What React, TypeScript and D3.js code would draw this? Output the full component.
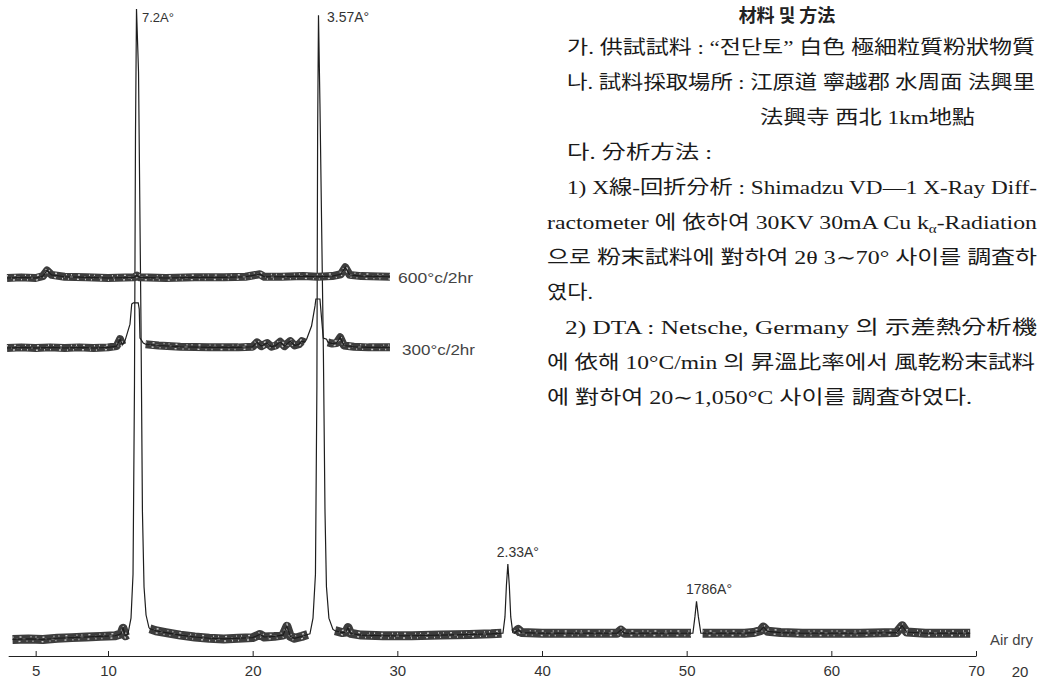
import React, { useEffect, useRef } from "react";
import * as d3 from "d3";

type Pt = [number, number];

// x axis (2θ)
const xTicks = [5, 10, 20, 30, 40, 50, 60, 70];

// Air dry: background trace (2θ, intensity)
const airDryBackground: Pt[] = [
  [3.4, -0.4], [4.5, -0.3], [5.5, -0.4], [6.5, -0.2], [7.5, -0.1], [8.5, 0],
  [9.5, 0.1], [10.5, 0.2], [10.9, 0.5], [11.04, 1.4], [11.2, 0.2], [11.35, 0.4],
  [12.9, 1.3], [13.3, 1.0], [14, 0.7], [15, 0.3], [16, 0], [17, -0.2], [18, -0.3],
  [19, -0.2], [20, -0.1], [20.5, 0.4], [20.8, 0], [21.5, 0.1], [22.1, 0.3],
  [22.37, 1.7], [22.6, 0.1], [22.9, -0.2], [23.4, 0.1], [23.8, 0.4],
  [25.7, 1.0], [26.2, 0.7], [26.45, 0.8], [26.59, 1.5], [26.75, 0.6], [27.5, 0.3],
  [29, 0.2], [31, 0.2], [33, 0.3], [35, 0.4], [36.5, 0.5], [37.2, 0.6],
  [38.1, 0.6], [38.35, 1.2], [38.6, 0.7], [40, 0.6], [42, 0.6], [44, 0.6],
  [45.2, 0.6], [45.45, 1.1], [45.7, 0.6], [47, 0.6], [49, 0.6], [50.3, 0.6],
  [51.1, 0.6], [52.5, 0.6], [54, 0.6], [54.6, 0.7], [55.1, 1.0], [55.3, 1.6],
  [55.6, 0.9], [56.5, 0.7], [58, 0.6], [60, 0.6], [62, 0.6], [64.5, 0.7],
  [64.9, 1.8], [65.2, 0.8], [66.5, 0.6], [68, 0.6], [69.6, 0.6],
];

// Air dry: peaks 7.2Å, 3.57Å, 2.33Å, 1.786Å
const airDryPeaks: Pt[][] = [
  [[11.38, 0.5], [11.59, 3], [11.73, 10], [11.83, 40], [11.9, 80], [11.97, 100],
   [12.11, 90], [12.28, 50], [12.38, 20], [12.49, 8], [12.63, 3.5], [12.83, 1.5]],
  [[23.96, 0.5], [24.17, 3], [24.34, 10], [24.44, 40], [24.49, 80], [24.55, 99],
   [24.65, 85], [24.89, 45], [25.0, 20], [25.1, 8], [25.27, 3], [25.55, 1.2]],
  [[37.3, 0.6], [37.44, 3.2], [37.54, 8.2], [37.64, 11.6], [37.74, 8.2],
   [37.84, 3.2], [37.98, 0.7]],
  [[50.43, 0.6], [50.57, 3.2], [50.68, 5.7], [50.81, 3.2], [50.98, 0.6]],
];

// 300°C / 2hr
const heat300Background: Pt[] = [
  [3.02, 0], [4, 0.1], [5, 0], [6, 0.1], [7, 0], [8, 0.1], [9, 0], [10, 0.1],
  [10.6, 0.3], [10.83, 1.4], [11.0, 0.5],
  [12.6, 0.6], [13.5, 0.4], [15, 0.2], [17, 0.1], [19, 0.1], [20.0, 0.2],
  [20.3, 0.9], [20.6, 0.3], [21.0, 0.8], [21.3, 0.2], [21.6, 0.4], [21.9, 1.0],
  [22.2, 0.3], [22.6, 1.1], [22.9, 0.4], [23.2, 0.6], [23.4, 1.1], [23.6, 0.9],
  [25.2, 0.9], [25.5, 0.7], [25.8, 0.8], [26.05, 1.7], [26.3, 0.4], [27, 0.2],
  [28, 0.1], [29.49, 0.1],
];
const heat300Peaks: Pt[][] = [
  [[11.17, 1.1], [11.52, 3.8], [11.64, 7.0], [11.75, 7.2], [12.09, 7.2],
   [12.16, 6.2], [12.21, 1.6], [12.44, 0.8]],
  [[23.73, 1.4], [24.07, 3.5], [24.31, 6.7], [24.37, 7.8], [24.65, 7.8],
   [24.76, 4.8], [24.88, 1.6], [25.11, 1.4]],
];

// 600°C / 2hr
const heat600Background: Pt[] = [
  [3.02, 0], [4, 0.1], [5, 0], [5.5, 0.3], [5.78, 1.2], [6.1, 0.5], [7, 0.2],
  [8.5, 0.1], [10, 0], [11.8, 0.1], [12, 0.4], [12.2, 0.1], [14, 0], [16, 0.1],
  [18, 0.1], [19.5, 0.2], [20.5, 0.6], [20.8, 0.2], [22, 0.2], [23.5, 0.3],
  [24.5, 0.2], [25.5, 0.3], [26.1, 0.6], [26.4, 1.7], [26.7, 0.5], [27.5, 0.3],
  [29.49, 0.2],
];

const peakLabels = ["7.2A°", "3.57A°", "2.33A°", "1786A°"];
const traceLabels = ["Air dry", "300°c/2hr", "600°c/2hr"];

const title = "材料 및 方法";
const methodLines = [
  "가. 供試試料 : “전단토” 白色 極細粒質粉狀物質",
  "나. 試料採取場所 : 江原道 寧越郡 水周面 法興里",
  "法興寺 西北 1km地點",
  "다. 分析方法 :",
  "1) X線-回折分析 : Shimadzu VD—1 X-Ray Diff-",
  "ractometer 에 依하여 30KV 30mA Cu k_α-Radiation",
  "으로 粉末試料에 對하여 2θ 3∼70° 사이를 調査하",
  "였다.",
  "2) DTA : Netsche,  Germany 의  示差熱分析機",
  "에 依해 10°C/min 의 昇溫比率에서  風乾粉末試料",
  "에 對하여 20∼1,050°C 사이를 調査하였다.",
];

const App: React.FC = () => {
  const svgRef = useRef<SVGSVGElement | null>(null);

  useEffect(() => {
    const width = 1038;
    const height = 679;
    const svg = d3.select(svgRef.current);
    svg.selectAll("*").remove();
    svg
      .attr("width", width)
      .attr("height", height)
      .attr("viewBox", [0, 0, width, height])
      .style("background", "#fff");

    const x = d3.scaleLinear().domain([10, 70]).range([108, 976]);
    const labelFont = "'Liberation Sans', Arial, sans-serif";

    // traces: [background, peaks, baseline y, band thickness]
    const traces: [Pt[], Pt[][], number, number][] = [
      [airDryBackground, airDryPeaks, 637, 9],
      [heat300Background, heat300Peaks, 348, 8],
      [heat600Background, [], 278, 8],
    ];

    const yScales: d3.ScaleLinear<number, number>[] = [];
    traces.forEach(([bg, peaks, base, band]) => {
      const y = d3.scaleLinear().domain([0, 100]).range([base, base - 628]);
      yScales.push(y);
      const line = d3
        .line<Pt>()
        .x((d) => x(d[0]))
        .y((d) => y(d[1]));
      const ranges = peaks.map((p) => [p[0][0], p[p.length - 1][0]]);

      // split background at peaks
      const segs: Pt[][] = [];
      let cur: Pt[] = [];
      bg.forEach((d, i) => {
        if (i > 0 && ranges.some(([a]) => a > bg[i - 1][0] && a < d[0])) {
          segs.push(cur);
          cur = [];
        }
        cur.push(d);
      });
      segs.push(cur);

      const full = bg
        .filter((d) => !ranges.some(([a, b]) => d[0] >= a && d[0] <= b))
        .concat(...peaks)
        .sort((a, b) => a[0] - b[0]);

      const g = svg.append("g");
      segs.forEach((s) => {
        g.append("path")
          .attr("d", line(s))
          .attr("fill", "none")
          .attr("stroke", "#3d3d3d")
          .attr("stroke-width", band)
          .attr("stroke-linejoin", "round");
        // scanned speckle
        [
          [-2.2, "1 6 2 9 1 4", 0],
          [0, "2 7 1 5 3 11", 5],
          [2.2, "1 5 1 8 2 6", 9],
        ].forEach(([dy, dash, off]) => {
          g.append("path")
            .attr("d", line(s))
            .attr("transform", `translate(0,${dy})`)
            .attr("fill", "none")
            .attr("stroke", "#c8c8c8")
            .attr("stroke-width", 1.4)
            .attr("stroke-dasharray", dash as string)
            .attr("stroke-dashoffset", off as number);
        });
      });
      g.append("path")
        .attr("d", line(full))
        .attr("fill", "none")
        .attr("stroke", "#1e1e1e")
        .attr("stroke-width", 1.2);
    });

    // peak labels, anchored at the top of each air-dry peak
    const labelOffsets = [
      [5.5, 12.5, "start", 13],
      [8.5, 6.5, "start", 14],
      [10, -7, "middle", 14],
      [12.5, -7, "middle", 14],
    ] as const;
    airDryPeaks.forEach((p, i) => {
      const top = p.reduce((m, d) => (d[1] > m[1] ? d : m), p[0]);
      const [dx, dy, anchor, fs] = labelOffsets[i];
      svg
        .append("text")
        .attr("x", x(top[0]) + dx)
        .attr("y", yScales[0](top[1]) + dy)
        .attr("text-anchor", anchor)
        .attr("font-family", labelFont)
        .attr("font-size", fs)
        .attr("fill", "#333")
        .text(peakLabels[i]);
    });

    // trace labels
    const traceLabelPos = [
      [990, 645, 15, 43],
      [402, 355, 15, 73],
      [398, 283, 15, 75],
    ];
    traceLabels.forEach((t, i) => {
      const [lx, ly, fs, tl] = traceLabelPos[i];
      svg
        .append("text")
        .attr("x", lx)
        .attr("y", ly)
        .attr("font-family", labelFont)
        .attr("font-size", fs)
        .attr("fill", "#444")
        .attr("textLength", tl)
        .attr("lengthAdjust", "spacingAndGlyphs")
        .text(t);
    });

    // x axis
    const axisScale = x.copy().domain([3.1, 70]).range([x(3.1), x(70)]);
    const gx = svg
      .append("g")
      .attr("transform", "translate(0,656)")
      .call(
        d3
          .axisBottom(axisScale)
          .tickValues(xTicks)
          .tickSize(-5)
          .tickSizeOuter(0)
          .tickPadding(9)
          .tickFormat(d3.format("d")),
      );
    gx.select(".domain").attr("stroke", "#222").attr("stroke-width", 1.2);
    gx.selectAll(".tick line").attr("stroke", "#222");
    gx.selectAll("text")
      .attr("font-family", labelFont)
      .attr("font-size", 15)
      .attr("fill", "#333");
    svg
      .append("text")
      .attr("x", 1020)
      .attr("y", 677)
      .attr("text-anchor", "middle")
      .attr("font-family", labelFont)
      .attr("font-size", 15)
      .attr("fill", "#333")
      .text("20");

    // text block on the right
    const textFont = "'Liberation Serif', 'Noto Sans CJK KR', serif";
    svg
      .append("text")
      .attr("x", 787)
      .attr("y", 22)
      .attr("text-anchor", "middle")
      .attr("font-family", "'Noto Sans CJK KR', sans-serif")
      .attr("font-weight", 700)
      .attr("font-size", 18)
      .attr("fill", "#222")
      .text(title);

    const lineStart = [567, 567, 760, 567, 567, 547, 547, 547, 565, 547, 547];
    const lineEnd = [1035, 1035, 975, 712, 1037, 1037, 1037, 593, 1037, 1035, 972];
    methodLines.forEach((s, i) => {
      const t = svg
        .append("text")
        .attr("x", lineStart[i])
        .attr("y", 54 + 35 * i)
        .attr("font-family", textFont)
        .attr("font-size", 19)
        .attr("fill", "#1a1a1a")
        .attr("textLength", lineEnd[i] - lineStart[i])
        .attr("lengthAdjust", "spacingAndGlyphs");
      const parts = s.split("_α");
      if (parts.length > 1) {
        t.append("tspan").text(parts[0]);
        t.append("tspan").attr("dy", 4).attr("font-size", 12).text("α");
        t.append("tspan").attr("dy", -4).text(parts[1]);
      } else {
        t.text(s);
      }
    });
  }, []);

  return (
    <div style={{ position: "absolute", left: 0, top: 0 }}>
      <svg ref={svgRef}></svg>
    </div>
  );
};

export default App;
